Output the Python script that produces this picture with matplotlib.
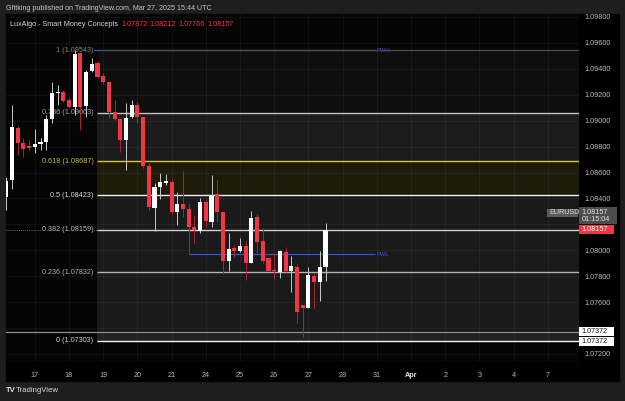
import matplotlib.pyplot as plt
from matplotlib.patches import Rectangle
from matplotlib.transforms import IdentityTransform

plt.rcParams['font.family'] = ['Liberation Sans', 'DejaVu Sans']

# EURUSD 4H candles, first bar index = -1 (partly cut at the left edge)
first_idx = -1
opens = [1.08411, 1.08542, 1.08944, 1.08830, 1.08805, 1.08795, 1.08818, 1.08838,
         1.09013, 1.09211, 1.09221, 1.09160, 1.09108, 1.09520, 1.09116, 1.09383,
         1.09443, 1.09345, 1.09296, 1.09069, 1.09013, 1.08851, 1.09026, 1.09119,
         1.09026, 1.08648, 1.08330, 1.08486, 1.08521, 1.08527, 1.08298, 1.08357,
         1.08319, 1.08182, 1.08151, 1.08373, 1.08221, 1.08432, 1.08298, 1.07917,
         1.08015, 1.07997, 1.08033, 1.07904, 1.08254, 1.08072, 1.07938, 1.07848,
         1.07835, 1.07987, 1.07840, 1.07873, 1.07578, 1.07557, 1.07804, 1.07758,
         1.07872]
highs = [1.08565, 1.09121, 1.08961, 1.08866, 1.08851, 1.08936, 1.08866, 1.09044,
         1.09296, 1.09275, 1.09237, 1.09183, 1.09543, 1.09522, 1.09391, 1.09481,
         1.09463, 1.09368, 1.09296, 1.09160, 1.09013, 1.09136, 1.09160, 1.09146,
         1.09031, 1.08676, 1.08521, 1.08594, 1.08589, 1.08552, 1.08452, 1.08614,
         1.08362, 1.08272, 1.08401, 1.08393, 1.08581, 1.08542, 1.08298, 1.08136,
         1.08041, 1.08092, 1.08072, 1.08303, 1.08280, 1.08170, 1.07943, 1.07977,
         1.08002, 1.08028, 1.07956, 1.07892, 1.07578, 1.07873, 1.07827, 1.07997,
         1.08212]
lows = [1.08311, 1.08473, 1.08735, 1.08722, 1.08774, 1.08751, 1.08774, 1.08774,
        1.08982, 1.09121, 1.09146, 1.09098, 1.09044, 1.08928, 1.09031, 1.09378,
        1.09332, 1.09281, 1.09018, 1.09005, 1.08761, 1.08619, 1.09018, 1.08980,
        1.08635, 1.08311, 1.08149, 1.08393, 1.08504, 1.08280, 1.08195, 1.08254,
        1.07971, 1.08054, 1.08136, 1.08182, 1.08182, 1.08221, 1.07815, 1.07840,
        1.07950, 1.07989, 1.07771, 1.07900, 1.07977, 1.07900, 1.07838, 1.07778,
        1.07784, 1.07835, 1.07680, 1.07441, 1.07333, 1.07552, 1.07545, 1.07611,
        1.07766]
closes = [1.08535, 1.08951, 1.08828, 1.08784, 1.08792, 1.08820, 1.08835, 1.09015,
          1.09211, 1.09224, 1.09154, 1.09108, 1.09515, 1.09108, 1.09378, 1.09435,
          1.09339, 1.09296, 1.09069, 1.09011, 1.08851, 1.09018, 1.09119, 1.09026,
          1.08648, 1.08336, 1.08491, 1.08529, 1.08532, 1.08298, 1.08357, 1.08316,
          1.08182, 1.08157, 1.08370, 1.08228, 1.08421, 1.08298, 1.07917, 1.08010,
          1.07997, 1.08033, 1.07904, 1.08251, 1.08062, 1.07917, 1.07842, 1.07840,
          1.07992, 1.07840, 1.07879, 1.07526, 1.07557, 1.07809, 1.07758, 1.07869,
          1.08157]

day_labels = ["17", "18", "19", "20", "21", "24", "25", "26", "27", "28", "31",
              "Apr", "2", "3", "4", "7"]
day_idx = [4, 10, 16, 22, 28, 34, 40, 46, 52, 58, 64, 70, 76, 82, 88, 94]

price_ticks = [1.072, 1.074, 1.076, 1.078, 1.080, 1.082, 1.084, 1.086, 1.088,
               1.090, 1.092, 1.094, 1.096, 1.098]
hidden_ticks = [1.074, 1.082]   # covered by the price tags

fib_ratios = ["1", "0.786", "0.618", "0.5", "0.382", "0.236", "0"]
fib_prices = [1.09543, 1.09063, 1.08687, 1.08423, 1.08159, 1.07832, 1.07303]
fib_line_colors = ['#4a4a4a', '#c4c4c4', '#d8c636', '#f0f0f0', '#cfcfcf', '#b4b4b4', '#f5f5f5']
fib_text_colors = ['#808080', '#a0a0a0', '#cdb935', '#d8d8d8', '#bdbdbd', '#b0b0b0', '#d0d0d0']
fib_start = 14.9

pwh_price, pwh_start = 1.09543, 11
pwl_price, pwl_start = 1.07971, 31
level_end = 63.7
extra_level = 1.07372
last_price = 1.08157
legend_vals = ["1.07872", "1.08212", "1.07766", "1.08157"]

RED = '#f23645'
BLUE = '#2f56d6'
BG = '#050505'
W, H = 625, 401

fig = plt.figure(figsize=(W / 100, H / 100), dpi=100, facecolor='#1e1e1e')


def fx(px):
    return px / W


def fy(py):
    return 1 - py / H


# black frame behind pane + scales
fig.patches.append(Rectangle((fx(6), fy(381)), fx(619) - fx(6), fy(14) - fy(381),
                             transform=fig.transFigure, color='#000000', zorder=-5))

ax = fig.add_axes([fx(6), fy(362), fx(579) - fx(6), fy(14) - fy(362)])
ax.set_facecolor(BG)
ax.set_xlim(-1.053, 99.47)
ax.set_ylim(1.07138, 1.09823)
for s in ax.spines.values():
    s.set_visible(False)

# zones
xr = 99.47
zones = [(fib_prices[1], fib_prices[0], '#0e0e0e'),
         (fib_prices[2], fib_prices[1], '#1c1c1c'),
         (fib_prices[3], fib_prices[2], '#1f1b0b'),
         (extra_level, fib_prices[3], '#1a1a1a'),
         (fib_prices[6], extra_level, '#212121')]
for lo, hi, col in zones:
    ax.add_patch(Rectangle((fib_start, lo), xr - fib_start, hi - lo, color=col, zorder=0.2, lw=0))

# grid
ax.set_axisbelow(True)
ax.set_xticks(day_idx)
ax.set_xticklabels(day_labels)
ax.set_yticks(price_ticks)
ax.set_yticklabels(["" if v in hidden_ticks else f"{v:.5f}" for v in price_ticks])
ax.grid(True, color='white', alpha=0.055, lw=0.6)
ax.tick_params(axis='x', length=0, pad=7, labelsize=5.2, labelcolor='#b8b8b8')
ax.tick_params(axis='y', left=False, right=False, labelleft=False, labelright=True,
               length=0, pad=4, labelsize=5.2, labelcolor='#bdbdbd')
for lab in ax.get_xticklabels():
    if lab.get_text() == "Apr":
        lab.set_color('#e8e8e8')
        lab.set_fontweight('bold')

# previous week high / low
ax.hlines(pwh_price, pwh_start, level_end, color=BLUE, lw=0.9, zorder=1.5)
ax.hlines(pwl_price, pwl_start, level_end, color=BLUE, lw=0.9, zorder=1.5)
ax.text(level_end + 0.3, pwh_price, "PWH", color=BLUE, fontsize=4.2, va='center', zorder=2)
ax.text(level_end + 0.3, pwl_price, "PWL", color=BLUE, fontsize=4.2, va='center', zorder=2)

# dotted last price line on the left part
ax.hlines(last_price, -1.053, fib_start, color='#8a8a8a', lw=0.6, ls=(0, (1, 1.5)), zorder=1.6)

# extra horizontal level across the pane
ax.axhline(extra_level, color='#8c8c8c', lw=0.9, zorder=1.7)

# fib levels
for r, p, lc, tc in zip(fib_ratios, fib_prices, fib_line_colors, fib_text_colors):
    ax.hlines(p, fib_start, xr, color=lc, lw=1.0, zorder=2)
    ax.text(fib_start - 0.6, p, f"{r} ({p:.5f})", ha='right', va='center', fontsize=5.2,
            color=tc, zorder=2.5,
            bbox=dict(boxstyle='square,pad=0.05', fc=BG, ec='none'))

# candles
for i, (o, h, l, c) in enumerate(zip(opens, highs, lows, closes)):
    x = i + first_idx
    up = c >= o
    body = '#ffffff' if up else RED
    wick = '#c8c8c8' if up else '#a82633'
    ax.vlines(x, l, h, color=wick, lw=0.7, zorder=3)
    lo = min(o, c)
    ht = max(abs(c - o), 0.00003)
    ax.add_patch(Rectangle((x - 0.36, lo), 0.72, ht, facecolor=body, edgecolor='none', zorder=4))


# price scale tags (drawn in pixel space)
def ypx(price):
    return ax.transData.transform((0, price))[1]


def tag(x0, x1, yc, h, fc, lines, tc, fs=5.2):
    fig.patches.append(Rectangle((x0, yc - h / 2), x1 - x0, h, transform=IdentityTransform(),
                                 facecolor=fc, edgecolor='none', zorder=5))
    fig.text((x0 + 2.5) / W, yc / H, lines, transform=fig.transFigure, color=tc, fontsize=fs,
             va='center', ha='left', zorder=6, linespacing=1.05)


y_last = ypx(last_price)
tag(547, 578, y_last + 17, 8, '#5a5a5a', "EURUSD", '#d8d8d8')
tag(579, 617, y_last + 14, 17, '#4d4d4d', f"{last_price:.5f}\n01:15:04", '#e6e6e6')
tag(579, 614, y_last, 9, RED, f"{last_price:.5f}", '#ffffff')
tag(579, 614, ypx(extra_level), 9, '#ffffff', f"{extra_level:.5f}", '#111111')
tag(579, 614, ypx(fib_prices[6]) - 0.6, 9, '#ffffff', f"{extra_level:.5f}", '#111111')

# header, legend, footer
fig.text(fx(6), fy(8), "Gfitking published on TradingView.com, Mar 27, 2025 15:44 UTC",
         color='#c8c8c8', fontsize=5.1, va='center', ha='left')
fig.text(fx(10), fy(24), "LuxAlgo - Smart Money Concepts", color='#d1d4dc', fontsize=5.2,
         va='center', ha='left')
for v, px in zip(legend_vals, [121, 149.5, 178, 207]):
    fig.text(fx(px), fy(24), v, color=RED, fontsize=5.2, va='center', ha='left')
fig.text(fx(6), fy(391), "TV", color='#e0e0e0', fontsize=5.5, fontweight='bold',
         va='center', ha='left')
fig.text(fx(15.5), fy(391), "TradingView", color='#d8d8d8', fontsize=5.6,
         va='center', ha='left')

fig.savefig("out.png", dpi=100, facecolor=fig.get_facecolor())
